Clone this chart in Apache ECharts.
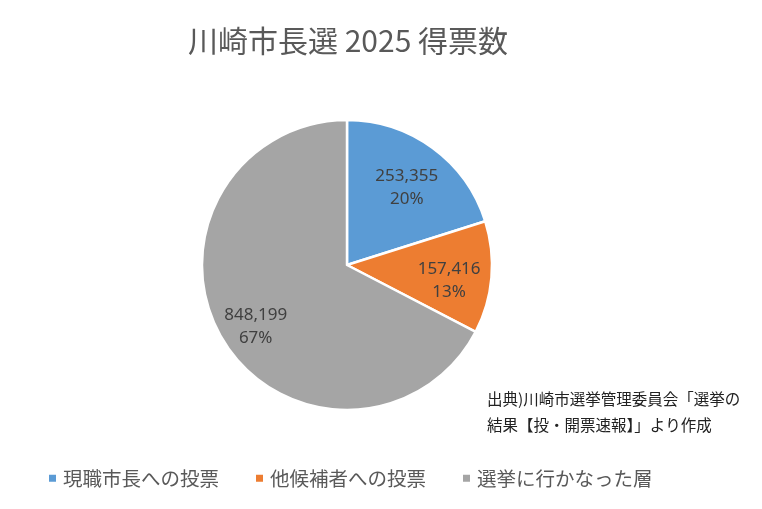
<!DOCTYPE html>
<html>
<head>
<meta charset="utf-8">
<script src="https://cdn.jsdelivr.net/npm/echarts@6/dist/echarts.min.js"></script>
<style>
html, body { margin: 0; padding: 0; background: #fff; }
#main { width: 762px; height: 509px; }
</style>
</head>
<body>
<div id="main"></div>
<script>
var categories = ['現職市長への投票', '他候補者への投票', '選挙に行かなった層'];
var votes = [253355, 157416, 848199];
var colors = ['#5B9BD5', '#ED7D31', '#A5A5A5'];

var chart = echarts.init(document.getElementById('main'));
var font = '"Noto Sans CJK JP", "Noto Sans", sans-serif';

var pieData = categories.map(function (name, i) {
    return { name: name, value: votes[i], itemStyle: { color: colors[i] } };
});
// ラベル用（色なし）
var labelData = categories.map(function (name, i) {
    return { name: name, value: votes[i] };
});

function fmt(n) {
    return String(n).replace(/\B(?=(\d{3})+(?!\d))/g, ',');
}

var option = {
    animation: false,
    title: {
        text: '川崎市長選 2025 得票数',
        left: 343,
        textAlign: 'center',
        top: 21,
        textStyle: { fontFamily: font, fontSize: 30, fontWeight: 'normal', color: '#595959' }
    },
    legend: {
        bottom: 16,
        left: 42,
        itemWidth: 9,
        itemHeight: 9,
        itemGap: 35,
        icon: 'rect',
        data: categories,
        textStyle: { fontFamily: font, fontSize: 19.5, color: '#595959', padding: [0, 0, 0, 1] }
    },
    series: [
        {
            type: 'pie',
            center: [347, 265],
            radius: [0, 145],
            startAngle: 90,
            clockwise: true,
            data: pieData,
            itemStyle: { borderColor: '#fff', borderWidth: 2.5 },
            label: { show: false },
            labelLine: { show: false }
        },
        {
            type: 'pie',
            center: [347, 265],
            radius: [58, 145],
            startAngle: 90,
            clockwise: true,
            percentPrecision: 0,
            silent: true,
            data: labelData,
            itemStyle: { color: 'rgba(0,0,0,0)', borderWidth: 0 },
            emphasis: { disabled: true },
            label: {
                show: true,
                position: 'inside',
                formatter: function (p) { return fmt(p.value) + '\n' + p.percent + '%'; },
                fontFamily: '"Noto Sans", sans-serif',
                fontSize: 17,
                lineHeight: 23,
                color: '#404040',
                offset: [-2, 7]
            },
            labelLine: { show: false }
        }
    ],
    graphic: [
        {
            type: 'text',
            left: 487,
            top: 386,
            style: {
                text: '出典)川崎市選挙管理委員会「選挙の\n結果【投・開票速報】」より作成',
                font: '15.5px ' + font,
                lineHeight: 26,
                fill: '#222'
            }
        }
    ]
};
chart.setOption(option);
</script>
</body>
</html>
